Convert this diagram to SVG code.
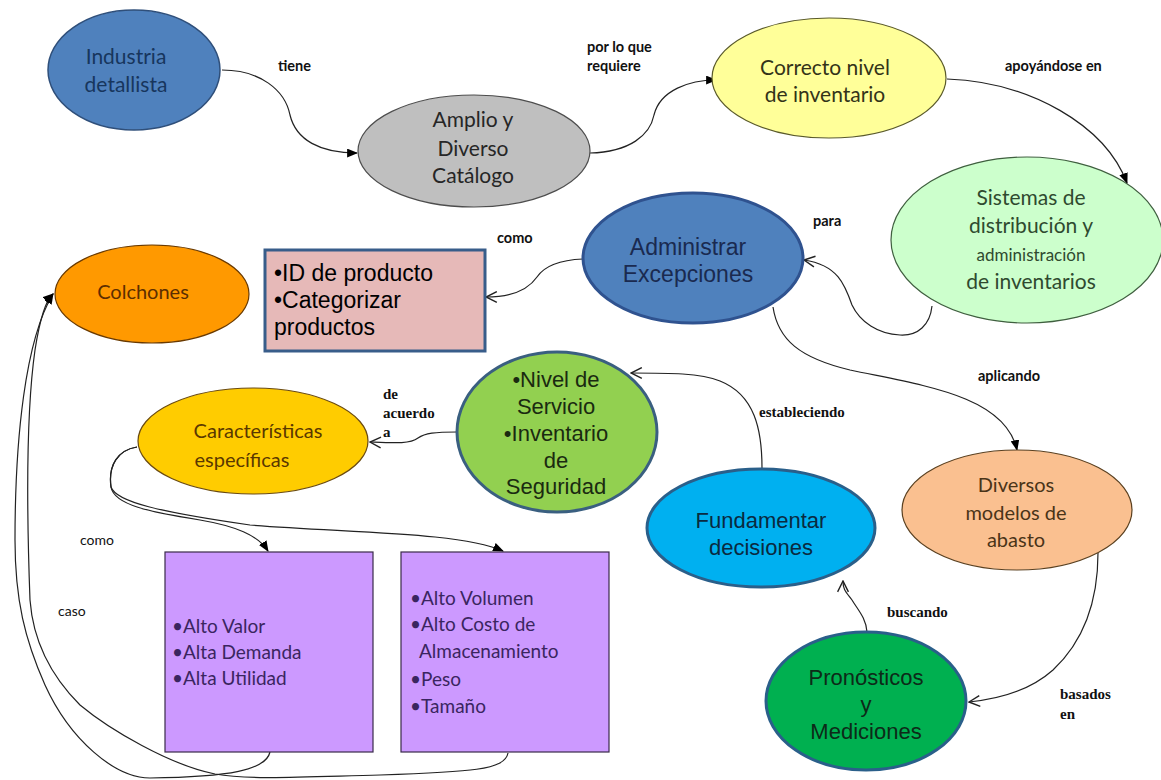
<svg xmlns="http://www.w3.org/2000/svg" width="1161" height="780" viewBox="0 0 1161 780">
  <style>
    .cal { font-family: Lato, "Open Sans", sans-serif; text-anchor: middle; }
    .ari { font-family: "Liberation Sans", Arial, sans-serif; text-anchor: middle; }
    .cal.left, .ari.left { text-anchor: start; }
    .lbl { font-family: Lato, sans-serif; font-weight: bold; font-size: 14.5px; fill: #111; }
    .lbls { font-family: "Liberation Serif", serif; font-weight: bold; font-size: 15px; fill: #111; }
    .lblr { font-family: Lato, sans-serif; font-size: 14px; fill: #111; }
    .conn path { fill: none; stroke: #222; stroke-width: 1.2; }
    .solid { marker-end: url(#arrowFilled); }
    .open { marker-end: url(#arrowOpen); }
  </style>
  <defs>
    <marker id="arrowFilled" viewBox="0 0 10 8" refX="9" refY="4" markerWidth="11" markerHeight="9" markerUnits="userSpaceOnUse" orient="auto">
      <path d="M0,0 L10,4 L0,8 z" fill="#000"/>
    </marker>
    <marker id="arrowOpen" viewBox="0 0 12 12" refX="11" refY="6" markerWidth="13" markerHeight="13" markerUnits="userSpaceOnUse" orient="auto">
      <path d="M1,1 L11,6 L1,11" fill="none" stroke="#222" stroke-width="1.3"/>
    </marker>
  </defs>

  <rect width="1161" height="780" fill="#fff"/>

  <!-- connectors -->
  <g id="connectors" class="conn">
    <path class="solid" d="M222,70 C260,70 285,90 290,115 C296,140 320,153 357,153"/>
    <path class="solid" d="M590,153 C630,152 650,135 654,115 C660,90 690,80 716,80"/>
    <path class="solid" d="M947,79 C1030,82 1105,125 1127,183"/>
    <path class="open" d="M932,306 C930,325 918,336 900,335 C878,334 860,322 852,305 C845,285 838,265 804,260"/>
    <path class="open" d="M583,259 C560,260 545,265 537,277 C528,290 510,297 486,297"/>
    <path class="solid" d="M773,307 C778,340 800,358 850,370 C920,385 1005,395 1017,450"/>
    <path class="open" d="M762,468 C762,430 755,395 720,381 C700,373 670,373 631,373"/>
    <path class="open" d="M457,432 C435,432 425,433 418,438 C410,444 395,443 370,442"/>
    <path class="open" d="M1098,553 C1098,600 1085,640 1053,670 C1035,686 1010,698 969,702"/>
    <path class="open" d="M867,632 C866,618 858,610 852,600 C846,592 843,590 843,581"/>
    <path class="solid" d="M137,447 C118,450 108,465 111,487 C114,505 150,512 200,520 C235,526 258,535 268,551"/>
    <path class="solid" d="M137,447 C118,450 108,465 111,487 C116,502 160,512 250,525 C350,533 460,532 503,551"/>
    <path class="solid" d="M270,752 C266,770 230,777 150,778 C115,778 70,740 45,685 C25,640 15,600 15,540 C15,440 25,340 53,294"/>
    <path class="solid" d="M508,753 C505,770 470,772 380,775 C300,777 250,780 215,774 C170,765 110,730 80,705 C50,675 33,640 30,600 C27,520 25,420 35,350 C40,318 46,300 53,294"/>
  </g>

  <!-- connector labels -->
  <g id="labels">
    <text class="lbl" x="278" y="71">tiene</text>
    <text class="lbl" x="587" y="52">por lo que</text>
    <text class="lbl" x="587" y="71">requiere</text>
    <text class="lbl" x="1005" y="71">apoyándose en</text>
    <text class="lbl" x="813" y="226">para</text>
    <text class="lbl" x="497" y="243">como</text>
    <text class="lbl" x="978" y="381">aplicando</text>
    <text class="lbls" x="759" y="417">estableciendo</text>
    <text class="lbls" x="383" y="399">de</text>
    <text class="lbls" x="383" y="418">acuerdo</text>
    <text class="lbls" x="383" y="437">a</text>
    <text class="lbls" x="887" y="617">buscando</text>
    <text class="lbls" x="1060" y="699">basados</text>
    <text class="lbls" x="1060" y="719">en</text>
    <text class="lblr" x="80" y="545">como</text>
    <text class="lblr" x="58" y="616">caso</text>
  </g>

  <g id="industria">
    <ellipse cx="134" cy="70" rx="86" ry="60" fill="#4f81bd" stroke="#2f4f7a" stroke-width="1.5"/>
    <text class="cal" x="126" y="64" font-size="21" fill="#17365d">Industria</text>
    <text class="cal" x="126" y="92" font-size="21" fill="#17365d">detallista</text>
  </g>

  <g id="amplio">
    <ellipse cx="474" cy="151" rx="116" ry="56" fill="#bfbfbf" stroke="#4d4d4d" stroke-width="1.2"/>
    <text class="cal" x="473" y="127" font-size="21" fill="#262626">Amplio y</text>
    <text class="cal" x="473" y="156" font-size="21" fill="#262626">Diverso</text>
    <text class="cal" x="473" y="183" font-size="21" fill="#262626">Catálogo</text>
  </g>

  <g id="correcto">
    <ellipse cx="829" cy="78" rx="117" ry="60" fill="#ffff99" stroke="#5a5a2a" stroke-width="1.2"/>
    <text class="cal" x="825" y="75" font-size="21" fill="#333318">Correcto nivel</text>
    <text class="cal" x="825" y="102" font-size="21" fill="#333318">de inventario</text>
  </g>

  <g id="sistemas">
    <ellipse cx="1027" cy="240" rx="136" ry="83" fill="#ccffcc" stroke="#3f5f3f" stroke-width="1.2"/>
    <text class="cal" x="1031" y="205" font-size="21" fill="#2f4a2f">Sistemas de</text>
    <text class="cal" x="1031" y="233" font-size="21" fill="#2f4a2f">distribución y</text>
    <text class="cal" x="1031" y="261" font-size="17" fill="#2f4a2f">administración</text>
    <text class="cal" x="1031" y="289" font-size="21" fill="#2f4a2f">de inventarios</text>
  </g>

  <g id="administrar">
    <ellipse cx="693" cy="258" rx="110" ry="65" fill="#4f81bd" stroke="#2f528f" stroke-width="3"/>
    <text class="ari" x="688" y="255" font-size="23" fill="#1a2a50">Administrar</text>
    <text class="ari" x="688" y="282" font-size="23" fill="#1a2a50">Excepciones</text>
  </g>

  <g id="colchones">
    <ellipse cx="152" cy="294" rx="97" ry="49" fill="#ff9900" stroke="#6a3a00" stroke-width="1.2"/>
    <text class="cal" x="143" y="299" font-size="20" fill="#5c2e00">Colchones</text>
  </g>

  <g id="producto">
    <rect x="265" y="250" width="220" height="101" fill="#e6b9b8" stroke="#385d8a" stroke-width="3"/>
    <text class="ari left" x="274" y="281" font-size="23" fill="#000">•ID de producto</text>
    <text class="ari left" x="274" y="308" font-size="23" fill="#000">•Categorizar</text>
    <text class="ari left" x="274" y="335" font-size="23" fill="#000">productos</text>
  </g>

  <g id="nivel">
    <ellipse cx="557" cy="432" rx="100" ry="80" fill="#92d050" stroke="#3a5f80" stroke-width="3"/>
    <text class="ari" x="556" y="387" font-size="22" fill="#1a2a10">•Nivel de</text>
    <text class="ari" x="556" y="414" font-size="22" fill="#1a2a10">Servicio</text>
    <text class="ari" x="556" y="441" font-size="22" fill="#1a2a10">•Inventario</text>
    <text class="ari" x="556" y="468" font-size="22" fill="#1a2a10">de</text>
    <text class="ari" x="556" y="494" font-size="22" fill="#1a2a10">Seguridad</text>
  </g>

  <g id="caracteristicas">
    <ellipse cx="253" cy="441" rx="115" ry="53" fill="#ffcc00" stroke="#6a4a10" stroke-width="1.2"/>
    <text class="cal" x="258" y="438" font-size="20" fill="#5a3800">Características</text>
    <text class="cal" x="242" y="467" font-size="20" fill="#5a3800">específicas</text>
  </g>

  <g id="fundamentar">
    <ellipse cx="761" cy="528" rx="114" ry="59" fill="#00b0f0" stroke="#2a5f8a" stroke-width="3"/>
    <text class="ari" x="761" y="528" font-size="22" fill="#0a2a40">Fundamentar</text>
    <text class="ari" x="761" y="555" font-size="22" fill="#0a2a40">decisiones</text>
  </g>

  <g id="diversos">
    <ellipse cx="1017" cy="510" rx="115" ry="60" fill="#fac090" stroke="#5a4020" stroke-width="1.2"/>
    <text class="cal" x="1016" y="492" font-size="20" fill="#4a3418">Diversos</text>
    <text class="cal" x="1016" y="520" font-size="20" fill="#4a3418">modelos de</text>
    <text class="cal" x="1016" y="547" font-size="20" fill="#4a3418">abasto</text>
  </g>

  <g id="pronosticos">
    <ellipse cx="866" cy="701" rx="100" ry="69" fill="#00b050" stroke="#2a5f8a" stroke-width="3"/>
    <text class="ari" x="866" y="685" font-size="22" fill="#0d2a18">Pronósticos</text>
    <text class="ari" x="866" y="712" font-size="22" fill="#0d2a18">y</text>
    <text class="ari" x="866" y="739" font-size="22" fill="#0d2a18">Mediciones</text>
  </g>

  <g id="valor">
    <rect x="165" y="552" width="208" height="200" fill="#cc99ff" stroke="#3a2a4a" stroke-width="1.2"/>
    <text class="cal left" x="172" y="633" font-size="19" fill="#3a2560">•Alto Valor</text>
    <text class="cal left" x="172" y="659" font-size="19" fill="#3a2560">•Alta Demanda</text>
    <text class="cal left" x="172" y="685" font-size="19" fill="#3a2560">•Alta Utilidad</text>
  </g>

  <g id="volumen">
    <rect x="401" y="552" width="208" height="200" fill="#cc99ff" stroke="#3a2a4a" stroke-width="1.2"/>
    <text class="cal left" x="410" y="605" font-size="19" fill="#3a2560">•Alto Volumen</text>
    <text class="cal left" x="410" y="631" font-size="19" fill="#3a2560">•Alto Costo de</text>
    <text class="cal left" x="419" y="658" font-size="19" fill="#3a2560">Almacenamiento</text>
    <text class="cal left" x="410" y="686" font-size="19" fill="#3a2560">•Peso</text>
    <text class="cal left" x="410" y="713" font-size="19" fill="#3a2560">•Tamaño</text>
  </g>
</svg>
